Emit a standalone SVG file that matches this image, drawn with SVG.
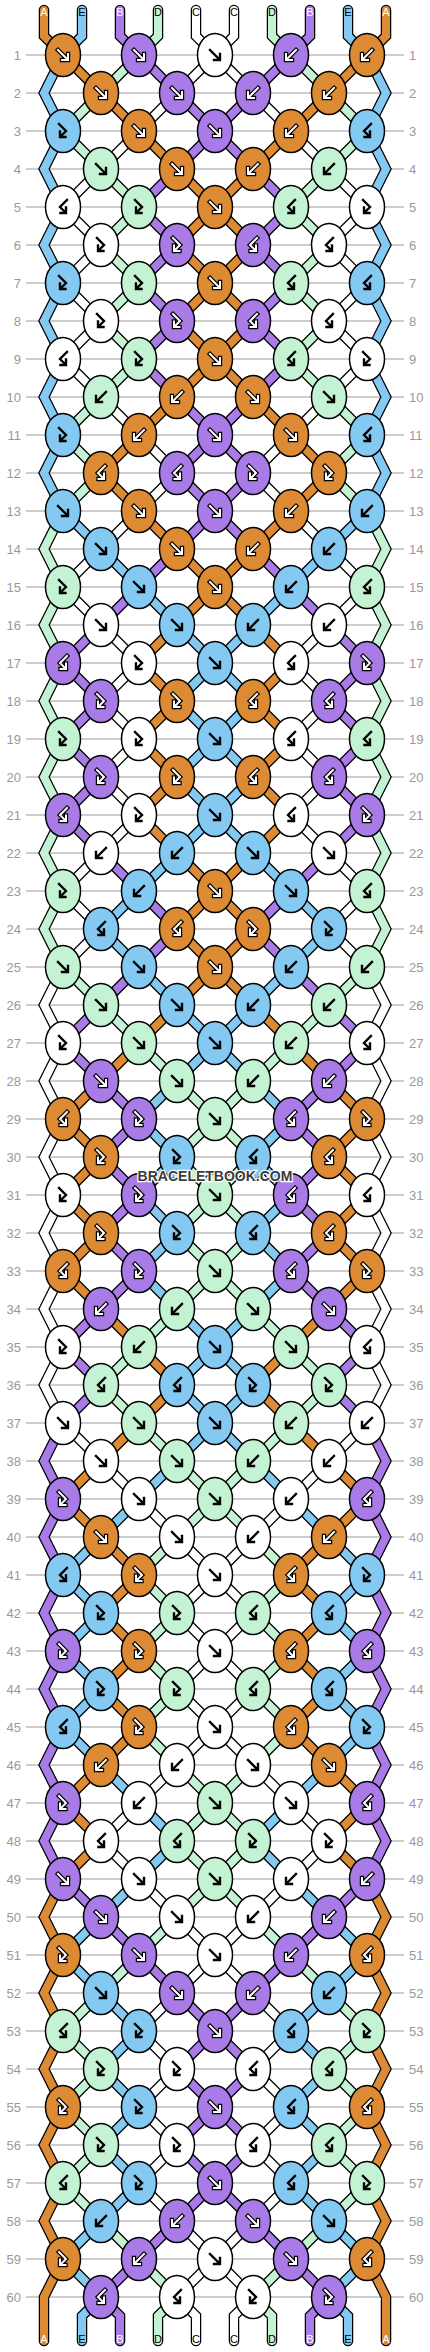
<svg xmlns="http://www.w3.org/2000/svg" width="430" height="2352" viewBox="0 0 430 2352">
<style>
.co{fill:#DD8A34}.cb{fill:#84C9F1}.cp{fill:#A87BE7}.cg{fill:#C4F3D4}.cw{fill:#fff}
.ol{fill:none;stroke:#000;stroke-width:10.5;stroke-linecap:round;stroke-linejoin:miter}
.sc{fill:none;stroke-width:8;stroke-linecap:round;stroke-linejoin:miter}
.so{stroke:#DD8A34}.sb{stroke:#84C9F1}.sp{stroke:#A87BE7}.sg{stroke:#C4F3D4}.sw{stroke:#fff}
.ao{fill:none;stroke:#000;stroke-width:4.4;stroke-linecap:square}
.ai{fill:none;stroke:#fff;stroke-width:2;stroke-linecap:square}
.ak{fill:none;stroke:#000;stroke-width:2.4;stroke-linecap:square}
.nl{font:13px "Liberation Sans",Arial,sans-serif;fill:#999;text-anchor:end}
.nr{font:13px "Liberation Sans",Arial,sans-serif;fill:#999;text-anchor:start}
.lb{font:11px "Liberation Sans",Arial,sans-serif;text-anchor:middle;fill:#000}
.lw{fill:#fff}
.wm{font:bold 14px "Liberation Sans",Arial,sans-serif;text-anchor:middle;fill:#3c3c3c;stroke:#fff;stroke-width:2.5;paint-order:stroke}
</style>
<defs>
<ellipse id="E" rx="17.5" ry="21.5" stroke="#000" stroke-width="1.5"/>
<path id="pf" d="M-5-5L4 4M5-1V5H-1"/>
<path id="pb" d="M5-5L-4 4M-5-1V5H1"/>
<path id="pfb" d="M-4-7L3 0L-2.5 5.5M-3 0.5V6H2.5"/>
<path id="pbf" d="M4-7L-3 0L2.5 5.5M3 0.5V6H-2.5"/>
<g id="fW"><use href="#pf" class="ao"/><use href="#pf" class="ai"/></g>
<g id="bW"><use href="#pb" class="ao"/><use href="#pb" class="ai"/></g>
<g id="fbW"><use href="#pfb" class="ao"/><use href="#pfb" class="ai"/></g>
<g id="bfW"><use href="#pbf" class="ao"/><use href="#pbf" class="ai"/></g>
<g id="fK"><use href="#pf" class="ak"/></g>
<g id="bK"><use href="#pb" class="ak"/></g>
<g id="fbK"><use href="#pfb" class="ak"/></g>
<g id="bfK"><use href="#pbf" class="ak"/></g>
<path id="s0" d="M44 10V36L63 55L101 93L139 131L177 169L215 207L253 245L215 283L177 321L215 359L253 397L291 435L329 473L291 511L253 549L215 587L177 625L139 663L177 701L139 739L177 777L139 815L177 853L215 891L253 929L215 967L177 1005L139 1043L101 1081L63 1119L101 1157L63 1195L101 1233L63 1271L101 1309L139 1347L177 1385L139 1423L101 1461L63 1499L101 1537L139 1575L101 1613L139 1651L101 1689L139 1727L101 1765L63 1803L101 1841L63 1879L44 1917L63 1955L44 1993L63 2031L44 2069L63 2107L44 2145L63 2183L44 2221L63 2259L44 2297V2341"/>
<path id="s1" d="M82 10V36L63 55L44 93L63 131L44 169L63 207L44 245L63 283L44 321L63 359L44 397L63 435L44 473L63 511L101 549L139 587L177 625L215 663L253 701L215 739L177 777L215 815L253 853L291 891L329 929L291 967L253 1005L215 1043L177 1081L139 1119L177 1157L139 1195L177 1233L139 1271L177 1309L215 1347L253 1385L215 1423L177 1461L139 1499L101 1537L63 1575L101 1613L63 1651L101 1689L63 1727L101 1765L139 1803L177 1841L139 1879L101 1917L63 1955L101 1993L139 2031L101 2069L139 2107L101 2145L139 2183L101 2221L63 2259L101 2297L82 2316V2341"/>
<path id="s2" d="M120 10V36L139 55L177 93L215 131L253 169L291 207L253 245L291 283L253 321L291 359L253 397L215 435L177 473L215 511L253 549L291 587L329 625L367 663L329 701L367 739L329 777L367 815L329 853L291 891L253 929L291 967L329 1005L367 1043L329 1081L291 1119L329 1157L291 1195L329 1233L291 1271L329 1309L367 1347L329 1385L367 1423L386 1461L367 1499L386 1537L367 1575L386 1613L367 1651L386 1689L367 1727L386 1765L367 1803L386 1841L367 1879L329 1917L291 1955L253 1993L215 2031L177 2069L215 2107L253 2145L215 2183L177 2221L139 2259L101 2297L120 2316V2341"/>
<path id="s3" d="M158 10V36L139 55L101 93L63 131L101 169L139 207L101 245L139 283L101 321L139 359L101 397L63 435L101 473L63 511L44 549L63 587L44 625L63 663L44 701L63 739L44 777L63 815L44 853L63 891L44 929L63 967L101 1005L139 1043L177 1081L215 1119L253 1157L215 1195L177 1233L215 1271L253 1309L291 1347L329 1385L291 1423L253 1461L215 1499L177 1537L139 1575L177 1613L139 1651L177 1689L139 1727L177 1765L215 1803L253 1841L215 1879L177 1917L139 1955L101 1993L63 2031L101 2069L63 2107L101 2145L63 2183L101 2221L139 2259L177 2297L158 2316V2341"/>
<path id="s4" d="M196 10V36L215 55L253 93L291 131L329 169L367 207L329 245L367 283L329 321L367 359L329 397L291 435L253 473L291 511L329 549L367 587L329 625L291 663L329 701L291 739L329 777L291 815L329 853L367 891L329 929L367 967L386 1005L367 1043L386 1081L367 1119L386 1157L367 1195L386 1233L367 1271L386 1309L367 1347L386 1385L367 1423L329 1461L291 1499L253 1537L215 1575L177 1613L215 1651L253 1689L215 1727L177 1765L139 1803L101 1841L139 1879L177 1917L215 1955L253 1993L291 2031L253 2069L291 2107L253 2145L291 2183L253 2221L215 2259L177 2297L196 2316V2341"/>
</defs>
<rect width="430" height="2352" fill="#fff"/>
<g id="grid">
<path fill="none" stroke="#bdbdbd" stroke-width="1.5" d="M26 55H404M26 93H404M26 131H404M26 169H404M26 207H404M26 245H404M26 283H404M26 321H404M26 359H404M26 397H404M26 435H404M26 473H404M26 511H404M26 549H404M26 587H404M26 625H404M26 663H404M26 701H404M26 739H404M26 777H404M26 815H404M26 853H404M26 891H404M26 929H404M26 967H404M26 1005H404M26 1043H404M26 1081H404M26 1119H404M26 1157H404M26 1195H404M26 1233H404M26 1271H404M26 1309H404M26 1347H404M26 1385H404M26 1423H404M26 1461H404M26 1499H404M26 1537H404M26 1575H404M26 1613H404M26 1651H404M26 1689H404M26 1727H404M26 1765H404M26 1803H404M26 1841H404M26 1879H404M26 1917H404M26 1955H404M26 1993H404M26 2031H404M26 2069H404M26 2107H404M26 2145H404M26 2183H404M26 2221H404M26 2259H404M26 2297H404"/>
</g>
<g id="row-numbers">
<text class="nl" x="21" y="60">1</text><text class="nr" x="409" y="60">1</text>
<text class="nl" x="21" y="98">2</text><text class="nr" x="409" y="98">2</text>
<text class="nl" x="21" y="136">3</text><text class="nr" x="409" y="136">3</text>
<text class="nl" x="21" y="174">4</text><text class="nr" x="409" y="174">4</text>
<text class="nl" x="21" y="212">5</text><text class="nr" x="409" y="212">5</text>
<text class="nl" x="21" y="250">6</text><text class="nr" x="409" y="250">6</text>
<text class="nl" x="21" y="288">7</text><text class="nr" x="409" y="288">7</text>
<text class="nl" x="21" y="326">8</text><text class="nr" x="409" y="326">8</text>
<text class="nl" x="21" y="364">9</text><text class="nr" x="409" y="364">9</text>
<text class="nl" x="21" y="402">10</text><text class="nr" x="409" y="402">10</text>
<text class="nl" x="21" y="440">11</text><text class="nr" x="409" y="440">11</text>
<text class="nl" x="21" y="478">12</text><text class="nr" x="409" y="478">12</text>
<text class="nl" x="21" y="516">13</text><text class="nr" x="409" y="516">13</text>
<text class="nl" x="21" y="554">14</text><text class="nr" x="409" y="554">14</text>
<text class="nl" x="21" y="592">15</text><text class="nr" x="409" y="592">15</text>
<text class="nl" x="21" y="630">16</text><text class="nr" x="409" y="630">16</text>
<text class="nl" x="21" y="668">17</text><text class="nr" x="409" y="668">17</text>
<text class="nl" x="21" y="706">18</text><text class="nr" x="409" y="706">18</text>
<text class="nl" x="21" y="744">19</text><text class="nr" x="409" y="744">19</text>
<text class="nl" x="21" y="782">20</text><text class="nr" x="409" y="782">20</text>
<text class="nl" x="21" y="820">21</text><text class="nr" x="409" y="820">21</text>
<text class="nl" x="21" y="858">22</text><text class="nr" x="409" y="858">22</text>
<text class="nl" x="21" y="896">23</text><text class="nr" x="409" y="896">23</text>
<text class="nl" x="21" y="934">24</text><text class="nr" x="409" y="934">24</text>
<text class="nl" x="21" y="972">25</text><text class="nr" x="409" y="972">25</text>
<text class="nl" x="21" y="1010">26</text><text class="nr" x="409" y="1010">26</text>
<text class="nl" x="21" y="1048">27</text><text class="nr" x="409" y="1048">27</text>
<text class="nl" x="21" y="1086">28</text><text class="nr" x="409" y="1086">28</text>
<text class="nl" x="21" y="1124">29</text><text class="nr" x="409" y="1124">29</text>
<text class="nl" x="21" y="1162">30</text><text class="nr" x="409" y="1162">30</text>
<text class="nl" x="21" y="1200">31</text><text class="nr" x="409" y="1200">31</text>
<text class="nl" x="21" y="1238">32</text><text class="nr" x="409" y="1238">32</text>
<text class="nl" x="21" y="1276">33</text><text class="nr" x="409" y="1276">33</text>
<text class="nl" x="21" y="1314">34</text><text class="nr" x="409" y="1314">34</text>
<text class="nl" x="21" y="1352">35</text><text class="nr" x="409" y="1352">35</text>
<text class="nl" x="21" y="1390">36</text><text class="nr" x="409" y="1390">36</text>
<text class="nl" x="21" y="1428">37</text><text class="nr" x="409" y="1428">37</text>
<text class="nl" x="21" y="1466">38</text><text class="nr" x="409" y="1466">38</text>
<text class="nl" x="21" y="1504">39</text><text class="nr" x="409" y="1504">39</text>
<text class="nl" x="21" y="1542">40</text><text class="nr" x="409" y="1542">40</text>
<text class="nl" x="21" y="1580">41</text><text class="nr" x="409" y="1580">41</text>
<text class="nl" x="21" y="1618">42</text><text class="nr" x="409" y="1618">42</text>
<text class="nl" x="21" y="1656">43</text><text class="nr" x="409" y="1656">43</text>
<text class="nl" x="21" y="1694">44</text><text class="nr" x="409" y="1694">44</text>
<text class="nl" x="21" y="1732">45</text><text class="nr" x="409" y="1732">45</text>
<text class="nl" x="21" y="1770">46</text><text class="nr" x="409" y="1770">46</text>
<text class="nl" x="21" y="1808">47</text><text class="nr" x="409" y="1808">47</text>
<text class="nl" x="21" y="1846">48</text><text class="nr" x="409" y="1846">48</text>
<text class="nl" x="21" y="1884">49</text><text class="nr" x="409" y="1884">49</text>
<text class="nl" x="21" y="1922">50</text><text class="nr" x="409" y="1922">50</text>
<text class="nl" x="21" y="1960">51</text><text class="nr" x="409" y="1960">51</text>
<text class="nl" x="21" y="1998">52</text><text class="nr" x="409" y="1998">52</text>
<text class="nl" x="21" y="2036">53</text><text class="nr" x="409" y="2036">53</text>
<text class="nl" x="21" y="2074">54</text><text class="nr" x="409" y="2074">54</text>
<text class="nl" x="21" y="2112">55</text><text class="nr" x="409" y="2112">55</text>
<text class="nl" x="21" y="2150">56</text><text class="nr" x="409" y="2150">56</text>
<text class="nl" x="21" y="2188">57</text><text class="nr" x="409" y="2188">57</text>
<text class="nl" x="21" y="2226">58</text><text class="nr" x="409" y="2226">58</text>
<text class="nl" x="21" y="2264">59</text><text class="nr" x="409" y="2264">59</text>
<text class="nl" x="21" y="2302">60</text><text class="nr" x="409" y="2302">60</text>
</g>
<g id="connectors">
<use href="#s0" class="ol"/><use href="#s1" class="ol"/><use href="#s2" class="ol"/><use href="#s3" class="ol"/><use href="#s4" class="ol"/>
<use href="#s0" class="ol" transform="matrix(-1 0 0 1 430 0)"/><use href="#s1" class="ol" transform="matrix(-1 0 0 1 430 0)"/><use href="#s2" class="ol" transform="matrix(-1 0 0 1 430 0)"/><use href="#s3" class="ol" transform="matrix(-1 0 0 1 430 0)"/><use href="#s4" class="ol" transform="matrix(-1 0 0 1 430 0)"/>
<use href="#s0" class="sc so"/><use href="#s1" class="sc sb"/><use href="#s2" class="sc sp"/><use href="#s3" class="sc sg"/><use href="#s4" class="sc sw"/>
<use href="#s0" class="sc so" transform="matrix(-1 0 0 1 430 0)"/><use href="#s1" class="sc sb" transform="matrix(-1 0 0 1 430 0)"/><use href="#s2" class="sc sp" transform="matrix(-1 0 0 1 430 0)"/><use href="#s3" class="sc sg" transform="matrix(-1 0 0 1 430 0)"/><use href="#s4" class="sc sw" transform="matrix(-1 0 0 1 430 0)"/>
</g>
<g id="labels">
<text class="lb lw" x="44" y="16">A</text><text class="lb" x="82" y="16">E</text><text class="lb lw" x="120" y="16">B</text><text class="lb" x="158" y="16">D</text><text class="lb" x="196" y="16">C</text><text class="lb" x="234" y="16">C</text><text class="lb" x="272" y="16">D</text><text class="lb lw" x="310" y="16">B</text><text class="lb" x="348" y="16">E</text><text class="lb lw" x="386" y="16">A</text>
<text class="lb lw" x="44" y="2343">A</text><text class="lb" x="82" y="2343">E</text><text class="lb lw" x="120" y="2343">B</text><text class="lb" x="158" y="2343">D</text><text class="lb" x="196" y="2343">C</text><text class="lb" x="234" y="2343">C</text><text class="lb" x="272" y="2343">D</text><text class="lb lw" x="310" y="2343">B</text><text class="lb" x="348" y="2343">E</text><text class="lb lw" x="386" y="2343">A</text>
</g>
<g id="knots">
<g id="k1-1" transform="translate(63 55)"><use href="#E" class="co"/><use href="#fW"/></g>
<g id="k1-2" transform="translate(139 55)"><use href="#E" class="cp"/><use href="#fW"/></g>
<g id="k1-3" transform="translate(215 55)"><use href="#E" class="cw"/><use href="#fK"/></g>
<g id="k1-4" transform="translate(291 55)"><use href="#E" class="cp"/><use href="#bW"/></g>
<g id="k1-5" transform="translate(367 55)"><use href="#E" class="co"/><use href="#bW"/></g>
<g id="k2-1" transform="translate(101 93)"><use href="#E" class="co"/><use href="#fW"/></g>
<g id="k2-2" transform="translate(177 93)"><use href="#E" class="cp"/><use href="#fW"/></g>
<g id="k2-3" transform="translate(253 93)"><use href="#E" class="cp"/><use href="#bW"/></g>
<g id="k2-4" transform="translate(329 93)"><use href="#E" class="co"/><use href="#bW"/></g>
<g id="k3-1" transform="translate(63 131)"><use href="#E" class="cb"/><use href="#fbK"/></g>
<g id="k3-2" transform="translate(139 131)"><use href="#E" class="co"/><use href="#fW"/></g>
<g id="k3-3" transform="translate(215 131)"><use href="#E" class="cp"/><use href="#fW"/></g>
<g id="k3-4" transform="translate(291 131)"><use href="#E" class="co"/><use href="#bW"/></g>
<g id="k3-5" transform="translate(367 131)"><use href="#E" class="cb"/><use href="#bfK"/></g>
<g id="k4-1" transform="translate(101 169)"><use href="#E" class="cg"/><use href="#fK"/></g>
<g id="k4-2" transform="translate(177 169)"><use href="#E" class="co"/><use href="#fW"/></g>
<g id="k4-3" transform="translate(253 169)"><use href="#E" class="co"/><use href="#bW"/></g>
<g id="k4-4" transform="translate(329 169)"><use href="#E" class="cg"/><use href="#bK"/></g>
<g id="k5-1" transform="translate(63 207)"><use href="#E" class="cw"/><use href="#bfK"/></g>
<g id="k5-2" transform="translate(139 207)"><use href="#E" class="cg"/><use href="#fbK"/></g>
<g id="k5-3" transform="translate(215 207)"><use href="#E" class="co"/><use href="#fW"/></g>
<g id="k5-4" transform="translate(291 207)"><use href="#E" class="cg"/><use href="#bfK"/></g>
<g id="k5-5" transform="translate(367 207)"><use href="#E" class="cw"/><use href="#fbK"/></g>
<g id="k6-1" transform="translate(101 245)"><use href="#E" class="cw"/><use href="#fbK"/></g>
<g id="k6-2" transform="translate(177 245)"><use href="#E" class="cp"/><use href="#fbW"/></g>
<g id="k6-3" transform="translate(253 245)"><use href="#E" class="cp"/><use href="#bfW"/></g>
<g id="k6-4" transform="translate(329 245)"><use href="#E" class="cw"/><use href="#bfK"/></g>
<g id="k7-1" transform="translate(63 283)"><use href="#E" class="cb"/><use href="#fbK"/></g>
<g id="k7-2" transform="translate(139 283)"><use href="#E" class="cg"/><use href="#fbK"/></g>
<g id="k7-3" transform="translate(215 283)"><use href="#E" class="co"/><use href="#fW"/></g>
<g id="k7-4" transform="translate(291 283)"><use href="#E" class="cg"/><use href="#bfK"/></g>
<g id="k7-5" transform="translate(367 283)"><use href="#E" class="cb"/><use href="#bfK"/></g>
<g id="k8-1" transform="translate(101 321)"><use href="#E" class="cw"/><use href="#fbK"/></g>
<g id="k8-2" transform="translate(177 321)"><use href="#E" class="cp"/><use href="#fbW"/></g>
<g id="k8-3" transform="translate(253 321)"><use href="#E" class="cp"/><use href="#bfW"/></g>
<g id="k8-4" transform="translate(329 321)"><use href="#E" class="cw"/><use href="#bfK"/></g>
<g id="k9-1" transform="translate(63 359)"><use href="#E" class="cw"/><use href="#bfK"/></g>
<g id="k9-2" transform="translate(139 359)"><use href="#E" class="cg"/><use href="#fbK"/></g>
<g id="k9-3" transform="translate(215 359)"><use href="#E" class="co"/><use href="#fW"/></g>
<g id="k9-4" transform="translate(291 359)"><use href="#E" class="cg"/><use href="#bfK"/></g>
<g id="k9-5" transform="translate(367 359)"><use href="#E" class="cw"/><use href="#fbK"/></g>
<g id="k10-1" transform="translate(101 397)"><use href="#E" class="cg"/><use href="#bK"/></g>
<g id="k10-2" transform="translate(177 397)"><use href="#E" class="co"/><use href="#bW"/></g>
<g id="k10-3" transform="translate(253 397)"><use href="#E" class="co"/><use href="#fW"/></g>
<g id="k10-4" transform="translate(329 397)"><use href="#E" class="cg"/><use href="#fK"/></g>
<g id="k11-1" transform="translate(63 435)"><use href="#E" class="cb"/><use href="#fbK"/></g>
<g id="k11-2" transform="translate(139 435)"><use href="#E" class="co"/><use href="#bW"/></g>
<g id="k11-3" transform="translate(215 435)"><use href="#E" class="cp"/><use href="#fW"/></g>
<g id="k11-4" transform="translate(291 435)"><use href="#E" class="co"/><use href="#fW"/></g>
<g id="k11-5" transform="translate(367 435)"><use href="#E" class="cb"/><use href="#bfK"/></g>
<g id="k12-1" transform="translate(101 473)"><use href="#E" class="co"/><use href="#bfW"/></g>
<g id="k12-2" transform="translate(177 473)"><use href="#E" class="cp"/><use href="#bfW"/></g>
<g id="k12-3" transform="translate(253 473)"><use href="#E" class="cp"/><use href="#fbW"/></g>
<g id="k12-4" transform="translate(329 473)"><use href="#E" class="co"/><use href="#fbW"/></g>
<g id="k13-1" transform="translate(63 511)"><use href="#E" class="cb"/><use href="#fK"/></g>
<g id="k13-2" transform="translate(139 511)"><use href="#E" class="co"/><use href="#fW"/></g>
<g id="k13-3" transform="translate(215 511)"><use href="#E" class="cp"/><use href="#fW"/></g>
<g id="k13-4" transform="translate(291 511)"><use href="#E" class="co"/><use href="#bW"/></g>
<g id="k13-5" transform="translate(367 511)"><use href="#E" class="cb"/><use href="#bK"/></g>
<g id="k14-1" transform="translate(101 549)"><use href="#E" class="cb"/><use href="#fK"/></g>
<g id="k14-2" transform="translate(177 549)"><use href="#E" class="co"/><use href="#fW"/></g>
<g id="k14-3" transform="translate(253 549)"><use href="#E" class="co"/><use href="#bW"/></g>
<g id="k14-4" transform="translate(329 549)"><use href="#E" class="cb"/><use href="#bK"/></g>
<g id="k15-1" transform="translate(63 587)"><use href="#E" class="cg"/><use href="#fbK"/></g>
<g id="k15-2" transform="translate(139 587)"><use href="#E" class="cb"/><use href="#fK"/></g>
<g id="k15-3" transform="translate(215 587)"><use href="#E" class="co"/><use href="#fW"/></g>
<g id="k15-4" transform="translate(291 587)"><use href="#E" class="cb"/><use href="#bK"/></g>
<g id="k15-5" transform="translate(367 587)"><use href="#E" class="cg"/><use href="#bfK"/></g>
<g id="k16-1" transform="translate(101 625)"><use href="#E" class="cw"/><use href="#fK"/></g>
<g id="k16-2" transform="translate(177 625)"><use href="#E" class="cb"/><use href="#fK"/></g>
<g id="k16-3" transform="translate(253 625)"><use href="#E" class="cb"/><use href="#bK"/></g>
<g id="k16-4" transform="translate(329 625)"><use href="#E" class="cw"/><use href="#bK"/></g>
<g id="k17-1" transform="translate(63 663)"><use href="#E" class="cp"/><use href="#bfW"/></g>
<g id="k17-2" transform="translate(139 663)"><use href="#E" class="cw"/><use href="#fbK"/></g>
<g id="k17-3" transform="translate(215 663)"><use href="#E" class="cb"/><use href="#fK"/></g>
<g id="k17-4" transform="translate(291 663)"><use href="#E" class="cw"/><use href="#bfK"/></g>
<g id="k17-5" transform="translate(367 663)"><use href="#E" class="cp"/><use href="#fbW"/></g>
<g id="k18-1" transform="translate(101 701)"><use href="#E" class="cp"/><use href="#fbW"/></g>
<g id="k18-2" transform="translate(177 701)"><use href="#E" class="co"/><use href="#fbW"/></g>
<g id="k18-3" transform="translate(253 701)"><use href="#E" class="co"/><use href="#bfW"/></g>
<g id="k18-4" transform="translate(329 701)"><use href="#E" class="cp"/><use href="#bfW"/></g>
<g id="k19-1" transform="translate(63 739)"><use href="#E" class="cg"/><use href="#fbK"/></g>
<g id="k19-2" transform="translate(139 739)"><use href="#E" class="cw"/><use href="#fbK"/></g>
<g id="k19-3" transform="translate(215 739)"><use href="#E" class="cb"/><use href="#fK"/></g>
<g id="k19-4" transform="translate(291 739)"><use href="#E" class="cw"/><use href="#bfK"/></g>
<g id="k19-5" transform="translate(367 739)"><use href="#E" class="cg"/><use href="#bfK"/></g>
<g id="k20-1" transform="translate(101 777)"><use href="#E" class="cp"/><use href="#fbW"/></g>
<g id="k20-2" transform="translate(177 777)"><use href="#E" class="co"/><use href="#fbW"/></g>
<g id="k20-3" transform="translate(253 777)"><use href="#E" class="co"/><use href="#bfW"/></g>
<g id="k20-4" transform="translate(329 777)"><use href="#E" class="cp"/><use href="#bfW"/></g>
<g id="k21-1" transform="translate(63 815)"><use href="#E" class="cp"/><use href="#bfW"/></g>
<g id="k21-2" transform="translate(139 815)"><use href="#E" class="cw"/><use href="#fbK"/></g>
<g id="k21-3" transform="translate(215 815)"><use href="#E" class="cb"/><use href="#fK"/></g>
<g id="k21-4" transform="translate(291 815)"><use href="#E" class="cw"/><use href="#bfK"/></g>
<g id="k21-5" transform="translate(367 815)"><use href="#E" class="cp"/><use href="#fbW"/></g>
<g id="k22-1" transform="translate(101 853)"><use href="#E" class="cw"/><use href="#bK"/></g>
<g id="k22-2" transform="translate(177 853)"><use href="#E" class="cb"/><use href="#bK"/></g>
<g id="k22-3" transform="translate(253 853)"><use href="#E" class="cb"/><use href="#fK"/></g>
<g id="k22-4" transform="translate(329 853)"><use href="#E" class="cw"/><use href="#fK"/></g>
<g id="k23-1" transform="translate(63 891)"><use href="#E" class="cg"/><use href="#fbK"/></g>
<g id="k23-2" transform="translate(139 891)"><use href="#E" class="cb"/><use href="#bK"/></g>
<g id="k23-3" transform="translate(215 891)"><use href="#E" class="co"/><use href="#fW"/></g>
<g id="k23-4" transform="translate(291 891)"><use href="#E" class="cb"/><use href="#fK"/></g>
<g id="k23-5" transform="translate(367 891)"><use href="#E" class="cg"/><use href="#bfK"/></g>
<g id="k24-1" transform="translate(101 929)"><use href="#E" class="cb"/><use href="#bfK"/></g>
<g id="k24-2" transform="translate(177 929)"><use href="#E" class="co"/><use href="#bfW"/></g>
<g id="k24-3" transform="translate(253 929)"><use href="#E" class="co"/><use href="#fbW"/></g>
<g id="k24-4" transform="translate(329 929)"><use href="#E" class="cb"/><use href="#fbK"/></g>
<g id="k25-1" transform="translate(63 967)"><use href="#E" class="cg"/><use href="#fK"/></g>
<g id="k25-2" transform="translate(139 967)"><use href="#E" class="cb"/><use href="#fK"/></g>
<g id="k25-3" transform="translate(215 967)"><use href="#E" class="co"/><use href="#fW"/></g>
<g id="k25-4" transform="translate(291 967)"><use href="#E" class="cb"/><use href="#bK"/></g>
<g id="k25-5" transform="translate(367 967)"><use href="#E" class="cg"/><use href="#bK"/></g>
<g id="k26-1" transform="translate(101 1005)"><use href="#E" class="cg"/><use href="#fK"/></g>
<g id="k26-2" transform="translate(177 1005)"><use href="#E" class="cb"/><use href="#fK"/></g>
<g id="k26-3" transform="translate(253 1005)"><use href="#E" class="cb"/><use href="#bK"/></g>
<g id="k26-4" transform="translate(329 1005)"><use href="#E" class="cg"/><use href="#bK"/></g>
<g id="k27-1" transform="translate(63 1043)"><use href="#E" class="cw"/><use href="#fbK"/></g>
<g id="k27-2" transform="translate(139 1043)"><use href="#E" class="cg"/><use href="#fK"/></g>
<g id="k27-3" transform="translate(215 1043)"><use href="#E" class="cb"/><use href="#fK"/></g>
<g id="k27-4" transform="translate(291 1043)"><use href="#E" class="cg"/><use href="#bK"/></g>
<g id="k27-5" transform="translate(367 1043)"><use href="#E" class="cw"/><use href="#bfK"/></g>
<g id="k28-1" transform="translate(101 1081)"><use href="#E" class="cp"/><use href="#fW"/></g>
<g id="k28-2" transform="translate(177 1081)"><use href="#E" class="cg"/><use href="#fK"/></g>
<g id="k28-3" transform="translate(253 1081)"><use href="#E" class="cg"/><use href="#bK"/></g>
<g id="k28-4" transform="translate(329 1081)"><use href="#E" class="cp"/><use href="#bW"/></g>
<g id="k29-1" transform="translate(63 1119)"><use href="#E" class="co"/><use href="#bfW"/></g>
<g id="k29-2" transform="translate(139 1119)"><use href="#E" class="cp"/><use href="#fbW"/></g>
<g id="k29-3" transform="translate(215 1119)"><use href="#E" class="cg"/><use href="#fK"/></g>
<g id="k29-4" transform="translate(291 1119)"><use href="#E" class="cp"/><use href="#bfW"/></g>
<g id="k29-5" transform="translate(367 1119)"><use href="#E" class="co"/><use href="#fbW"/></g>
<g id="k30-1" transform="translate(101 1157)"><use href="#E" class="co"/><use href="#fbW"/></g>
<g id="k30-2" transform="translate(177 1157)"><use href="#E" class="cb"/><use href="#fbK"/></g>
<g id="k30-3" transform="translate(253 1157)"><use href="#E" class="cb"/><use href="#bfK"/></g>
<g id="k30-4" transform="translate(329 1157)"><use href="#E" class="co"/><use href="#bfW"/></g>
<g id="k31-1" transform="translate(63 1195)"><use href="#E" class="cw"/><use href="#fbK"/></g>
<g id="k31-2" transform="translate(139 1195)"><use href="#E" class="cp"/><use href="#fbW"/></g>
<g id="k31-3" transform="translate(215 1195)"><use href="#E" class="cg"/><use href="#fK"/></g>
<g id="k31-4" transform="translate(291 1195)"><use href="#E" class="cp"/><use href="#bfW"/></g>
<g id="k31-5" transform="translate(367 1195)"><use href="#E" class="cw"/><use href="#bfK"/></g>
<g id="k32-1" transform="translate(101 1233)"><use href="#E" class="co"/><use href="#fbW"/></g>
<g id="k32-2" transform="translate(177 1233)"><use href="#E" class="cb"/><use href="#fbK"/></g>
<g id="k32-3" transform="translate(253 1233)"><use href="#E" class="cb"/><use href="#bfK"/></g>
<g id="k32-4" transform="translate(329 1233)"><use href="#E" class="co"/><use href="#bfW"/></g>
<g id="k33-1" transform="translate(63 1271)"><use href="#E" class="co"/><use href="#bfW"/></g>
<g id="k33-2" transform="translate(139 1271)"><use href="#E" class="cp"/><use href="#fbW"/></g>
<g id="k33-3" transform="translate(215 1271)"><use href="#E" class="cg"/><use href="#fK"/></g>
<g id="k33-4" transform="translate(291 1271)"><use href="#E" class="cp"/><use href="#bfW"/></g>
<g id="k33-5" transform="translate(367 1271)"><use href="#E" class="co"/><use href="#fbW"/></g>
<g id="k34-1" transform="translate(101 1309)"><use href="#E" class="cp"/><use href="#bW"/></g>
<g id="k34-2" transform="translate(177 1309)"><use href="#E" class="cg"/><use href="#bK"/></g>
<g id="k34-3" transform="translate(253 1309)"><use href="#E" class="cg"/><use href="#fK"/></g>
<g id="k34-4" transform="translate(329 1309)"><use href="#E" class="cp"/><use href="#fW"/></g>
<g id="k35-1" transform="translate(63 1347)"><use href="#E" class="cw"/><use href="#fbK"/></g>
<g id="k35-2" transform="translate(139 1347)"><use href="#E" class="cg"/><use href="#bK"/></g>
<g id="k35-3" transform="translate(215 1347)"><use href="#E" class="cb"/><use href="#fK"/></g>
<g id="k35-4" transform="translate(291 1347)"><use href="#E" class="cg"/><use href="#fK"/></g>
<g id="k35-5" transform="translate(367 1347)"><use href="#E" class="cw"/><use href="#bfK"/></g>
<g id="k36-1" transform="translate(101 1385)"><use href="#E" class="cg"/><use href="#bfK"/></g>
<g id="k36-2" transform="translate(177 1385)"><use href="#E" class="cb"/><use href="#bfK"/></g>
<g id="k36-3" transform="translate(253 1385)"><use href="#E" class="cb"/><use href="#fbK"/></g>
<g id="k36-4" transform="translate(329 1385)"><use href="#E" class="cg"/><use href="#fbK"/></g>
<g id="k37-1" transform="translate(63 1423)"><use href="#E" class="cw"/><use href="#fK"/></g>
<g id="k37-2" transform="translate(139 1423)"><use href="#E" class="cg"/><use href="#fK"/></g>
<g id="k37-3" transform="translate(215 1423)"><use href="#E" class="cb"/><use href="#fK"/></g>
<g id="k37-4" transform="translate(291 1423)"><use href="#E" class="cg"/><use href="#bK"/></g>
<g id="k37-5" transform="translate(367 1423)"><use href="#E" class="cw"/><use href="#bK"/></g>
<g id="k38-1" transform="translate(101 1461)"><use href="#E" class="cw"/><use href="#fK"/></g>
<g id="k38-2" transform="translate(177 1461)"><use href="#E" class="cg"/><use href="#fK"/></g>
<g id="k38-3" transform="translate(253 1461)"><use href="#E" class="cg"/><use href="#bK"/></g>
<g id="k38-4" transform="translate(329 1461)"><use href="#E" class="cw"/><use href="#bK"/></g>
<g id="k39-1" transform="translate(63 1499)"><use href="#E" class="cp"/><use href="#fbW"/></g>
<g id="k39-2" transform="translate(139 1499)"><use href="#E" class="cw"/><use href="#fK"/></g>
<g id="k39-3" transform="translate(215 1499)"><use href="#E" class="cg"/><use href="#fK"/></g>
<g id="k39-4" transform="translate(291 1499)"><use href="#E" class="cw"/><use href="#bK"/></g>
<g id="k39-5" transform="translate(367 1499)"><use href="#E" class="cp"/><use href="#bfW"/></g>
<g id="k40-1" transform="translate(101 1537)"><use href="#E" class="co"/><use href="#fW"/></g>
<g id="k40-2" transform="translate(177 1537)"><use href="#E" class="cw"/><use href="#fK"/></g>
<g id="k40-3" transform="translate(253 1537)"><use href="#E" class="cw"/><use href="#bK"/></g>
<g id="k40-4" transform="translate(329 1537)"><use href="#E" class="co"/><use href="#bW"/></g>
<g id="k41-1" transform="translate(63 1575)"><use href="#E" class="cb"/><use href="#bfK"/></g>
<g id="k41-2" transform="translate(139 1575)"><use href="#E" class="co"/><use href="#fbW"/></g>
<g id="k41-3" transform="translate(215 1575)"><use href="#E" class="cw"/><use href="#fK"/></g>
<g id="k41-4" transform="translate(291 1575)"><use href="#E" class="co"/><use href="#bfW"/></g>
<g id="k41-5" transform="translate(367 1575)"><use href="#E" class="cb"/><use href="#fbK"/></g>
<g id="k42-1" transform="translate(101 1613)"><use href="#E" class="cb"/><use href="#fbK"/></g>
<g id="k42-2" transform="translate(177 1613)"><use href="#E" class="cg"/><use href="#fbK"/></g>
<g id="k42-3" transform="translate(253 1613)"><use href="#E" class="cg"/><use href="#bfK"/></g>
<g id="k42-4" transform="translate(329 1613)"><use href="#E" class="cb"/><use href="#bfK"/></g>
<g id="k43-1" transform="translate(63 1651)"><use href="#E" class="cp"/><use href="#fbW"/></g>
<g id="k43-2" transform="translate(139 1651)"><use href="#E" class="co"/><use href="#fbW"/></g>
<g id="k43-3" transform="translate(215 1651)"><use href="#E" class="cw"/><use href="#fK"/></g>
<g id="k43-4" transform="translate(291 1651)"><use href="#E" class="co"/><use href="#bfW"/></g>
<g id="k43-5" transform="translate(367 1651)"><use href="#E" class="cp"/><use href="#bfW"/></g>
<g id="k44-1" transform="translate(101 1689)"><use href="#E" class="cb"/><use href="#fbK"/></g>
<g id="k44-2" transform="translate(177 1689)"><use href="#E" class="cg"/><use href="#fbK"/></g>
<g id="k44-3" transform="translate(253 1689)"><use href="#E" class="cg"/><use href="#bfK"/></g>
<g id="k44-4" transform="translate(329 1689)"><use href="#E" class="cb"/><use href="#bfK"/></g>
<g id="k45-1" transform="translate(63 1727)"><use href="#E" class="cb"/><use href="#bfK"/></g>
<g id="k45-2" transform="translate(139 1727)"><use href="#E" class="co"/><use href="#fbW"/></g>
<g id="k45-3" transform="translate(215 1727)"><use href="#E" class="cw"/><use href="#fK"/></g>
<g id="k45-4" transform="translate(291 1727)"><use href="#E" class="co"/><use href="#bfW"/></g>
<g id="k45-5" transform="translate(367 1727)"><use href="#E" class="cb"/><use href="#fbK"/></g>
<g id="k46-1" transform="translate(101 1765)"><use href="#E" class="co"/><use href="#bW"/></g>
<g id="k46-2" transform="translate(177 1765)"><use href="#E" class="cw"/><use href="#bK"/></g>
<g id="k46-3" transform="translate(253 1765)"><use href="#E" class="cw"/><use href="#fK"/></g>
<g id="k46-4" transform="translate(329 1765)"><use href="#E" class="co"/><use href="#fW"/></g>
<g id="k47-1" transform="translate(63 1803)"><use href="#E" class="cp"/><use href="#fbW"/></g>
<g id="k47-2" transform="translate(139 1803)"><use href="#E" class="cw"/><use href="#bK"/></g>
<g id="k47-3" transform="translate(215 1803)"><use href="#E" class="cg"/><use href="#fK"/></g>
<g id="k47-4" transform="translate(291 1803)"><use href="#E" class="cw"/><use href="#fK"/></g>
<g id="k47-5" transform="translate(367 1803)"><use href="#E" class="cp"/><use href="#bfW"/></g>
<g id="k48-1" transform="translate(101 1841)"><use href="#E" class="cw"/><use href="#bfK"/></g>
<g id="k48-2" transform="translate(177 1841)"><use href="#E" class="cg"/><use href="#bfK"/></g>
<g id="k48-3" transform="translate(253 1841)"><use href="#E" class="cg"/><use href="#fbK"/></g>
<g id="k48-4" transform="translate(329 1841)"><use href="#E" class="cw"/><use href="#fbK"/></g>
<g id="k49-1" transform="translate(63 1879)"><use href="#E" class="cp"/><use href="#fW"/></g>
<g id="k49-2" transform="translate(139 1879)"><use href="#E" class="cw"/><use href="#fK"/></g>
<g id="k49-3" transform="translate(215 1879)"><use href="#E" class="cg"/><use href="#fK"/></g>
<g id="k49-4" transform="translate(291 1879)"><use href="#E" class="cw"/><use href="#bK"/></g>
<g id="k49-5" transform="translate(367 1879)"><use href="#E" class="cp"/><use href="#bW"/></g>
<g id="k50-1" transform="translate(101 1917)"><use href="#E" class="cp"/><use href="#fW"/></g>
<g id="k50-2" transform="translate(177 1917)"><use href="#E" class="cw"/><use href="#fK"/></g>
<g id="k50-3" transform="translate(253 1917)"><use href="#E" class="cw"/><use href="#bK"/></g>
<g id="k50-4" transform="translate(329 1917)"><use href="#E" class="cp"/><use href="#bW"/></g>
<g id="k51-1" transform="translate(63 1955)"><use href="#E" class="co"/><use href="#fbW"/></g>
<g id="k51-2" transform="translate(139 1955)"><use href="#E" class="cp"/><use href="#fW"/></g>
<g id="k51-3" transform="translate(215 1955)"><use href="#E" class="cw"/><use href="#fK"/></g>
<g id="k51-4" transform="translate(291 1955)"><use href="#E" class="cp"/><use href="#bW"/></g>
<g id="k51-5" transform="translate(367 1955)"><use href="#E" class="co"/><use href="#bfW"/></g>
<g id="k52-1" transform="translate(101 1993)"><use href="#E" class="cb"/><use href="#fK"/></g>
<g id="k52-2" transform="translate(177 1993)"><use href="#E" class="cp"/><use href="#fW"/></g>
<g id="k52-3" transform="translate(253 1993)"><use href="#E" class="cp"/><use href="#bW"/></g>
<g id="k52-4" transform="translate(329 1993)"><use href="#E" class="cb"/><use href="#bK"/></g>
<g id="k53-1" transform="translate(63 2031)"><use href="#E" class="cg"/><use href="#bfK"/></g>
<g id="k53-2" transform="translate(139 2031)"><use href="#E" class="cb"/><use href="#fbK"/></g>
<g id="k53-3" transform="translate(215 2031)"><use href="#E" class="cp"/><use href="#fW"/></g>
<g id="k53-4" transform="translate(291 2031)"><use href="#E" class="cb"/><use href="#bfK"/></g>
<g id="k53-5" transform="translate(367 2031)"><use href="#E" class="cg"/><use href="#fbK"/></g>
<g id="k54-1" transform="translate(101 2069)"><use href="#E" class="cg"/><use href="#fbK"/></g>
<g id="k54-2" transform="translate(177 2069)"><use href="#E" class="cw"/><use href="#fbK"/></g>
<g id="k54-3" transform="translate(253 2069)"><use href="#E" class="cw"/><use href="#bfK"/></g>
<g id="k54-4" transform="translate(329 2069)"><use href="#E" class="cg"/><use href="#bfK"/></g>
<g id="k55-1" transform="translate(63 2107)"><use href="#E" class="co"/><use href="#fbW"/></g>
<g id="k55-2" transform="translate(139 2107)"><use href="#E" class="cb"/><use href="#fbK"/></g>
<g id="k55-3" transform="translate(215 2107)"><use href="#E" class="cp"/><use href="#fW"/></g>
<g id="k55-4" transform="translate(291 2107)"><use href="#E" class="cb"/><use href="#bfK"/></g>
<g id="k55-5" transform="translate(367 2107)"><use href="#E" class="co"/><use href="#bfW"/></g>
<g id="k56-1" transform="translate(101 2145)"><use href="#E" class="cg"/><use href="#fbK"/></g>
<g id="k56-2" transform="translate(177 2145)"><use href="#E" class="cw"/><use href="#fbK"/></g>
<g id="k56-3" transform="translate(253 2145)"><use href="#E" class="cw"/><use href="#bfK"/></g>
<g id="k56-4" transform="translate(329 2145)"><use href="#E" class="cg"/><use href="#bfK"/></g>
<g id="k57-1" transform="translate(63 2183)"><use href="#E" class="cg"/><use href="#bfK"/></g>
<g id="k57-2" transform="translate(139 2183)"><use href="#E" class="cb"/><use href="#fbK"/></g>
<g id="k57-3" transform="translate(215 2183)"><use href="#E" class="cp"/><use href="#fW"/></g>
<g id="k57-4" transform="translate(291 2183)"><use href="#E" class="cb"/><use href="#bfK"/></g>
<g id="k57-5" transform="translate(367 2183)"><use href="#E" class="cg"/><use href="#fbK"/></g>
<g id="k58-1" transform="translate(101 2221)"><use href="#E" class="cb"/><use href="#bK"/></g>
<g id="k58-2" transform="translate(177 2221)"><use href="#E" class="cp"/><use href="#bW"/></g>
<g id="k58-3" transform="translate(253 2221)"><use href="#E" class="cp"/><use href="#fW"/></g>
<g id="k58-4" transform="translate(329 2221)"><use href="#E" class="cb"/><use href="#fK"/></g>
<g id="k59-1" transform="translate(63 2259)"><use href="#E" class="co"/><use href="#fbW"/></g>
<g id="k59-2" transform="translate(139 2259)"><use href="#E" class="cp"/><use href="#bW"/></g>
<g id="k59-3" transform="translate(215 2259)"><use href="#E" class="cw"/><use href="#fK"/></g>
<g id="k59-4" transform="translate(291 2259)"><use href="#E" class="cp"/><use href="#fW"/></g>
<g id="k59-5" transform="translate(367 2259)"><use href="#E" class="co"/><use href="#bfW"/></g>
<g id="k60-1" transform="translate(101 2297)"><use href="#E" class="cp"/><use href="#bfW"/></g>
<g id="k60-2" transform="translate(177 2297)"><use href="#E" class="cw"/><use href="#bfK"/></g>
<g id="k60-3" transform="translate(253 2297)"><use href="#E" class="cw"/><use href="#fbK"/></g>
<g id="k60-4" transform="translate(329 2297)"><use href="#E" class="cp"/><use href="#fbW"/></g>
</g>
<text class="wm" x="215" y="1181">BRACELETBOOK.COM</text>
</svg>
